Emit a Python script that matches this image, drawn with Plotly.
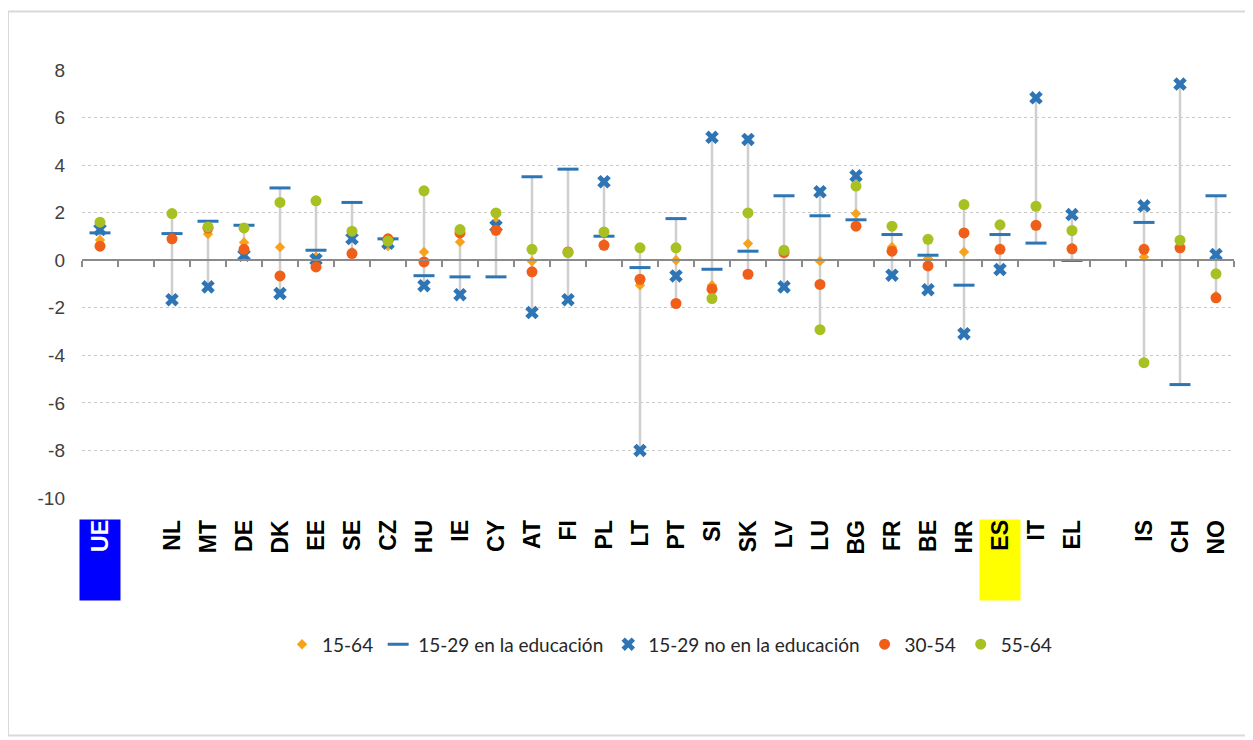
import plotly.graph_objects as go

# ---------------- data ----------------
categories = ["UE", "", "NL", "MT", "DE", "DK", "EE", "SE", "CZ", "HU", "IE", "CY", "AT", "FI",
              "PL", "LT", "PT", "SI", "SK", "LV", "LU", "BG", "FR", "BE", "HR", "ES", "IT", "EL",
              "", "IS", "CH", "NO"]

s_15_64 = [0.85, None, 0.95, 1.1, 0.75, 0.55, 0.15, 0.35, 0.6, 0.35, 0.77, 1.63, -0.05, 0.35,
           0.7, -1.05, 0.0, -1.05, 0.7, 0.35, -0.04, 1.96, 0.56, 0.07, 0.35, 0.5, 1.45, 0.5,
           None, 0.14, 0.6, -1.5]
s_15_29_edu = [1.15, None, 1.12, 1.64, 1.47, 3.04, 0.42, 2.43, 0.9, -0.65, -0.7, -0.7, 3.51, 3.83,
               1.01, -0.31, 1.75, -0.38, 0.38, 2.71, 1.87, 1.7, 1.08, 0.21, -1.05, 1.08, 0.72, -0.01,
               None, 1.59, -5.23, 2.71]
s_15_29_noedu = [1.29, None, -1.66, -1.12, 0.21, -1.4, 0.03, 0.91, 0.72, -1.07, -1.45, 1.43, -2.2, -1.66,
                 3.3, -8.0, -0.66, 5.17, 5.08, -1.12, 2.88, 3.55, -0.63, -1.24, -3.09, -0.39, 6.83, 1.92,
                 None, 2.29, 7.41, 0.24]
s_30_54 = [0.59, None, 0.9, 1.35, 0.46, -0.66, -0.28, 0.28, 0.9, -0.07, 1.15, 1.26, -0.49, 0.35,
           0.63, -0.8, -1.82, -1.22, -0.59, 0.32, -1.02, 1.43, 0.38, -0.24, 1.15, 0.46, 1.47, 0.48,
           None, 0.46, 0.52, -1.58]
s_55_64 = [1.6, None, 1.96, 1.4, 1.36, 2.43, 2.5, 1.22, 0.8, 2.92, 1.29, 1.99, 0.46, 0.32,
           1.19, 0.52, 0.52, -1.61, 1.99, 0.42, -2.92, 3.12, 1.43, 0.88, 2.34, 1.49, 2.27, 1.25,
           None, -4.31, 0.84, -0.57]

series_names = ["15-64", "15-29 en la educación", "15-29 no en la educación", "30-54", "55-64"]
y_ticks = [8, 6, 4, 2, 0, -2, -4, -6, -8, -10]
y_ticktext = ["8", "6", "4", "2", "0", "-2", "-4", "-6", "-8", "-10"]
highlight = {"UE": ("#0000FF", "white"), "ES": ("#FFFF00", "black")}

# ---------------- styling ----------------
BLUE = "#2e75b6"
ORANGE = "#ef5f1a"
GREEN = "#a9c023"
DIAMOND = "#f7a21b"
FONT = "Liberation Sans"

xs = list(range(len(categories)))
all_series = [s_15_64, s_15_29_edu, s_15_29_noedu, s_30_54, s_55_64]

fig = go.Figure()

# high-low range lines
lx, ly = [], []
for i in xs:
    vals = [s[i] for s in all_series if s[i] is not None]
    if vals:
        lx += [i, i, None]
        ly += [min(vals), max(vals), None]
fig.add_trace(go.Scatter(x=lx, y=ly, mode="lines", line=dict(color="#cfcfcf", width=2.5),
                         showlegend=False, hoverinfo="skip"))

fig.add_trace(go.Scatter(x=xs, y=s_15_64, mode="markers", name=series_names[0],
                         marker=dict(symbol="diamond", size=8, color=DIAMOND)))
fig.add_trace(go.Scatter(x=xs, y=s_15_29_edu, mode="markers", name=series_names[1],
                         marker=dict(symbol="line-ew", size=15, color=BLUE,
                                     line=dict(color=BLUE, width=3))))
fig.add_trace(go.Scatter(x=xs, y=s_15_29_noedu, mode="markers", name=series_names[2],
                         marker=dict(symbol="x", size=12, color=BLUE, line=dict(width=0))))
fig.add_trace(go.Scatter(x=xs, y=s_30_54, mode="markers", name=series_names[3],
                         marker=dict(symbol="circle", size=11, color=ORANGE)))
fig.add_trace(go.Scatter(x=xs, y=s_55_64, mode="markers", name=series_names[4],
                         marker=dict(symbol="circle", size=11, color=GREEN)))

ymin, ymax = min(y_ticks), max(y_ticks)
zero_pos = (0 - ymin) / (ymax - ymin)

# category labels
annotations = []
for i, c in enumerate(categories):
    if not c:
        continue
    bg, fc = highlight.get(c, (None, "black"))
    annotations.append(dict(
        x=i, xref="x", y=0, yref="paper", yshift=-21, yanchor="top", xanchor="center",
        text=f"<b>{c}</b>", showarrow=False, textangle=-90,
        font=dict(family=FONT, size=23, color=fc),
        bgcolor=bg if bg else "rgba(0,0,0,0)", width=80, height=40, align="right",
        borderpad=0,
    ))

fig.update_layout(
    width=1253, height=740,
    margin=dict(l=74, r=27, t=62, b=250),
    paper_bgcolor="white", plot_bgcolor="white",
    showlegend=True,
    legend=dict(orientation="h", x=0.51, xanchor="center", y=-0.342, yanchor="middle",
                font=dict(family="Lato", size=19, color="#262626"), itemwidth=30,
                traceorder="normal"),
    xaxis=dict(range=[-0.5, len(categories) - 0.5], anchor="free", position=zero_pos,
               showline=True, linecolor="#8a8a8a", linewidth=2,
               ticks="outside", ticklen=6, tickwidth=2, tickcolor="#8a8a8a",
               tickvals=[i - 0.5 for i in range(len(categories) + 1)],
               showticklabels=False, showgrid=False, zeroline=False, fixedrange=True),
    yaxis=dict(range=[ymin, ymax], tickvals=y_ticks, ticktext=y_ticktext,
               showgrid=True, gridcolor="#c8c8c8",
               griddash="dot", gridwidth=1, zeroline=False, showline=False,
               tickfont=dict(family=FONT, size=19, color="#404040"), ticklabelstandoff=16),
    annotations=annotations,
    shapes=[dict(type="rect", xref="paper", yref="paper",
                 x0=(8 - 82) / 1152, x1=(1250 - 82) / 1152,
                 y0=(498.5 - 736) / 428, y1=(498.5 - 12) / 428,
                 line=dict(color="#d9d9d9", width=2), layer="below")],
)

fig.write_html("out.html")
